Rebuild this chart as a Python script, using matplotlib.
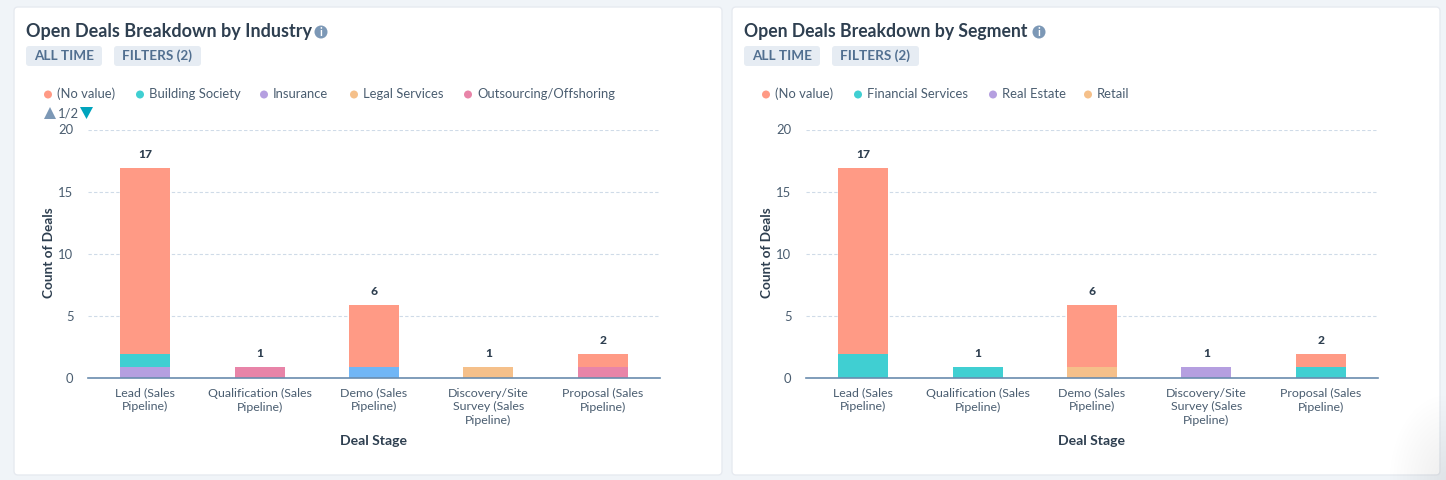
import numpy as np
import matplotlib.pyplot as plt
from matplotlib.patches import FancyBboxPatch, Circle, Polygon

plt.rcParams['font.family'] = ['Lato', 'DejaVu Sans']

# %% data
stages = ['Lead (Sales\nPipeline)', 'Qualification (Sales\nPipeline)', 'Demo (Sales\nPipeline)',
          'Discovery/Site\nSurvey (Sales\nPipeline)', 'Proposal (Sales\nPipeline)']
totals = [17, 1, 6, 1, 2]
y_ticks = [0, 5, 10, 15, 20]

# bottom to top of the stack
industry_names = ['Insurance', 'Building Society', 'Other (page 2)', 'Legal Services', 'Outsourcing/Offshoring', '(No value)']
industry_vals = [[1, 0, 0, 0, 0],
                 [1, 0, 0, 0, 0],
                 [0, 0, 1, 0, 0],
                 [0, 0, 0, 1, 0],
                 [0, 1, 0, 0, 1],
                 [15, 0, 5, 0, 1]]
industry_cols = ['#b59fe0', '#40cfd2', '#70b6f6', '#f5c08a', '#e884a8', '#ff9a85']

segment_names = ['Retail', 'Real Estate', 'Financial Services', '(No value)']
segment_vals = [[0, 0, 1, 0, 0],
                [0, 0, 0, 1, 0],
                [2, 1, 0, 0, 1],
                [15, 0, 5, 0, 1]]
segment_cols = ['#f5c08a', '#b59fe0', '#40cfd2', '#ff9a85']

W, H = 1446, 480
DARK = '#2e3f50'
MID = '#4a5d70'

fig = plt.figure(figsize=(W / 100, H / 100), dpi=100, facecolor='#f0f4f8')
bg = fig.add_axes([0, 0, 1, 1], zorder=0)
bg.set_xlim(0, W)
bg.set_ylim(H, 0)
bg.axis('off')


def px(n):
    return n * 0.72


def draw_card(x0, x1, title, title_size, title_end, legend_items, axis_left, names, vals, cols):
    bg.add_patch(FancyBboxPatch((x0, 7), x1 - x0, 468, boxstyle='round,pad=0,rounding_size=4',
                                fc='white', ec='#e6eaf0', lw=1))
    tx = x0 + 12
    bg.text(tx, 31, title, fontsize=px(title_size), fontweight='bold', color=DARK, va='center', ha='left')

    # info icon
    bg.add_patch(Circle((title_end + 8, 32), 6.5, fc='#7c98b6', ec='none'))
    bg.text(title_end + 8, 32, 'i', fontsize=px(11), fontweight='bold', color='white', ha='center', va='center')

    # the two pills
    for a, b, s in [(tx, tx + 76, 'ALL TIME'), (tx + 88, tx + 175, 'FILTERS (2)')]:
        bg.add_patch(FancyBboxPatch((a, 46), b - a, 20, boxstyle='round,pad=0,rounding_size=3',
                                    fc='#e6ecf3', ec='none'))
        bg.text((a + b) / 2, 55.5, s, fontsize=px(13.5), fontweight='bold', color='#516f90',
                ha='center', va='center')

    # legend
    for lab, lx, c in legend_items:
        bg.add_patch(Circle((lx - 9, 94.5), 4, fc=c, ec='none'))
        bg.text(lx, 94, lab, fontsize=px(13), color=MID, va='center', ha='left')

    ax = fig.add_axes([axis_left / W, 1 - 378 / H, 572 / W, (378 - 129.5) / H], zorder=1)
    ax.patch.set_alpha(0)
    x = np.arange(len(stages))
    bottom = np.full(len(stages), -0.1)
    for name, v, c in zip(names, vals, cols):
        ax.bar(x, v, bottom=bottom, width=50 / 114.4, color=c, label=name, zorder=2)
        bottom = bottom + np.array(v)
    for xi, t in zip(x, totals):
        ax.text(xi, t + 1, str(t), fontsize=px(12), fontweight='black', color=DARK, ha='center', va='center')

    ax.set_xlim(-0.5, 4.5)
    ax.set_ylim(0, 20)
    ax.set_yticks(y_ticks)
    ax.set_xticks(x)
    ax.set_xticklabels(stages, fontsize=px(12.4), color=MID, linespacing=1.3)
    ax.tick_params(axis='x', length=0, pad=7)
    ax.tick_params(axis='y', length=0, pad=10.5, labelsize=px(13), labelcolor=MID)
    ax.grid(axis='y', color='#cfdbe8', lw=0.8, ls=(0, (3, 2)), zorder=0)
    ax.set_axisbelow(True)
    for s in ['top', 'right', 'left']:
        ax.spines[s].set_visible(False)
    ax.spines['bottom'].set_color('#6a8cae')
    ax.spines['bottom'].set_linewidth(1.2)
    ax.spines['bottom'].set_zorder(5)

    bg.text(axis_left + 286, 441, 'Deal Stage', fontsize=px(14), fontweight='bold', color=DARK,
            ha='center', va='center')
    bg.text(axis_left - 39, 253, 'Count of Deals', fontsize=px(13.6), fontweight='bold', color=DARK,
            ha='center', va='center', rotation=90)
    return ax


draw_card(14, 722, 'Open Deals Breakdown by Industry', 18, 313,
          [('(No value)', 57, '#ff9a85'), ('Building Society', 149, '#40cfd2'), ('Insurance', 273, '#b59fe0'),
           ('Legal Services', 363, '#f5c08a'), ('Outsourcing/Offshoring', 477, '#e884a8')],
          88, industry_names, industry_vals, industry_cols)
draw_card(732, 1440, 'Open Deals Breakdown by Segment', 17.6, 1031,
          [('(No value)', 775, '#ff9a85'), ('Financial Services', 867, '#40cfd2'), ('Real Estate', 1002, '#b59fe0'),
           ('Retail', 1097, '#f5c08a')],
          806, segment_names, segment_vals, segment_cols)

# legend pager on the left chart
bg.add_patch(Polygon([(44, 119), (56, 119), (50, 107)], fc='#7c98b6', ec='none'))
bg.add_patch(Polygon([(80, 107), (93, 107), (86.5, 119)], fc='#00a4bd', ec='none'))
bg.text(68.5, 113, '1/2', fontsize=px(13), color=MID, ha='center', va='center')

# soft shadow in the lower right corner
yy, xx = np.mgrid[380:480, 1380:1446]
dist = np.clip(np.hypot((xx - 1446) / 60, (yy - 480) / 90), 0, 1)
shade = np.zeros(dist.shape + (4,))
shade[..., 3] = 0.07 * (1 - dist)
bg.imshow(shade, extent=(1380, 1446, 480, 380), zorder=3, aspect='auto')
bg.set_xlim(0, W)
bg.set_ylim(H, 0)

fig.savefig('out.png', dpi=100, facecolor=fig.get_facecolor())
